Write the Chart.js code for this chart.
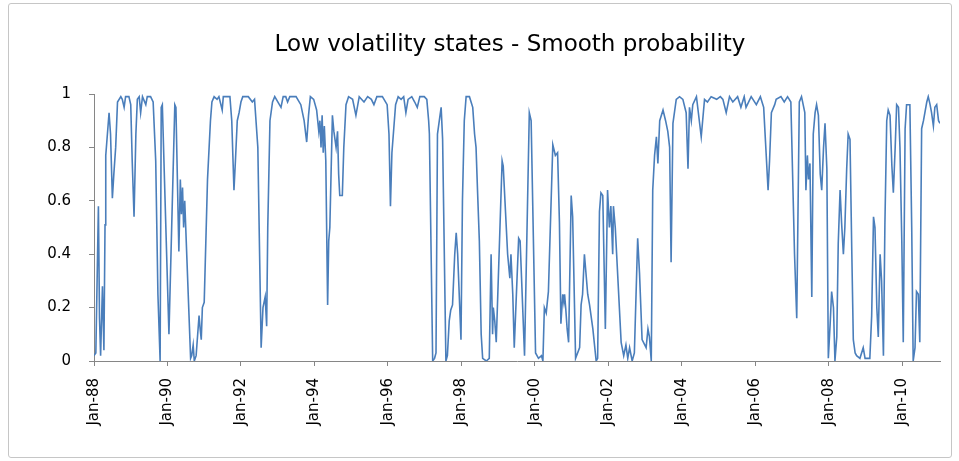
<!DOCTYPE html>
<html>
<head>
<meta charset="utf-8">
<script src="https://cdn.jsdelivr.net/npm/chart.js@4.4.1/dist/chart.umd.min.js"></script>
<style>
  html, body { margin: 0; padding: 0; background: #fff; }
  #wrap { position: relative; width: 959px; height: 461px; }
  #frame { position: absolute; left: 8px; top: 3px; width: 942px; height: 453px; border: 1px solid #c6c6c6; border-radius: 3px; pointer-events: none; }
</style>
</head>
<body>
<div id="wrap">
  <canvas id="chart" width="959" height="461"></canvas>
  <div id="frame"></div>
</div>
<script>
// Time of each traced vertex, in decimal years
const years = [
  1988.00, 1988.05, 1988.12, 1988.15, 1988.18, 1988.23, 1988.27, 1988.30, 1988.32, 1988.41, 1988.45, 1988.50, 1988.54, 1988.59, 1988.64, 1988.73, 1988.77, 1988.82, 1988.86, 1988.95,
  1989.00, 1989.04, 1989.09, 1989.14, 1989.18, 1989.23, 1989.27, 1989.32, 1989.41, 1989.45, 1989.54, 1989.61, 1989.68, 1989.74, 1989.80, 1989.83, 1989.86,
  1990.04, 1990.20, 1990.23, 1990.31, 1990.35, 1990.38, 1990.41, 1990.44, 1990.47, 1990.63, 1990.66, 1990.70, 1990.73, 1990.78, 1990.86, 1990.89, 1990.92, 1990.95,
  1991.00, 1991.09, 1991.17, 1991.21, 1991.27, 1991.35, 1991.40, 1991.49, 1991.52, 1991.70, 1991.75, 1991.81, 1991.85, 1991.90, 1991.95,
  1992.00, 1992.05, 1992.20, 1992.31, 1992.37, 1992.41, 1992.46, 1992.52, 1992.55, 1992.60, 1992.66, 1992.70, 1992.73, 1992.79, 1992.86, 1992.92,
  1993.09, 1993.15, 1993.22, 1993.27, 1993.33, 1993.50, 1993.63, 1993.72, 1993.79, 1993.84, 1993.89, 1993.98,
  1994.06, 1994.12, 1994.15, 1994.18, 1994.21, 1994.24, 1994.27, 1994.31, 1994.36, 1994.39, 1994.42, 1994.49, 1994.53, 1994.59, 1994.63, 1994.66, 1994.69, 1994.76, 1994.80, 1994.86, 1994.93,
  1995.04, 1995.13, 1995.22, 1995.35, 1995.45, 1995.55, 1995.62, 1995.70, 1995.85, 1995.98,
  1996.03, 1996.07, 1996.11, 1996.16, 1996.21, 1996.28, 1996.36, 1996.43, 1996.49, 1996.55, 1996.65, 1996.73, 1996.80, 1996.87, 1996.99,
  1997.06, 1997.11, 1997.13, 1997.22, 1997.27, 1997.31, 1997.35, 1997.40, 1997.45, 1997.49, 1997.58, 1997.62, 1997.67, 1997.71, 1997.76, 1997.82, 1997.86, 1997.90, 1997.99,
  1998.03, 1998.08, 1998.13, 1998.22, 1998.31, 1998.36, 1998.40, 1998.44, 1998.49, 1998.54, 1998.58, 1998.68, 1998.76, 1998.81, 1998.85, 1998.87, 1998.91, 1998.95,
  1999.11, 1999.14, 1999.26, 1999.32, 1999.35, 1999.40, 1999.44, 1999.56, 1999.60, 1999.72, 1999.85, 1999.90,
  2000.02, 2000.10, 2000.18, 2000.22, 2000.26, 2000.31, 2000.37, 2000.49, 2000.56, 2000.62, 2000.67, 2000.71, 2000.76, 2000.79, 2000.81, 2000.84, 2000.88, 2000.92, 2000.99,
  2001.03, 2001.11, 2001.22, 2001.26, 2001.30, 2001.35, 2001.44, 2001.49, 2001.58, 2001.67, 2001.71, 2001.76, 2001.80, 2001.85, 2001.92, 2001.98,
  2002.03, 2002.07, 2002.12, 2002.14, 2002.19, 2002.35, 2002.42, 2002.48, 2002.53, 2002.58, 2002.65, 2002.71, 2002.80, 2002.85, 2002.92,
  2003.03, 2003.08, 2003.12, 2003.17, 2003.21, 2003.26, 2003.31, 2003.35, 2003.40, 2003.49, 2003.56, 2003.62, 2003.67, 2003.71, 2003.76, 2003.85, 2003.94,
  2004.03, 2004.12, 2004.17, 2004.21, 2004.26, 2004.30, 2004.40, 2004.53, 2004.62, 2004.70, 2004.80, 2004.95,
  2005.05, 2005.12, 2005.21, 2005.30, 2005.39, 2005.52, 2005.61, 2005.70, 2005.75, 2005.89,
  2006.03, 2006.14, 2006.23, 2006.28, 2006.35, 2006.39, 2006.44, 2006.53, 2006.57, 2006.70, 2006.79, 2006.88, 2006.97,
  2007.07, 2007.13, 2007.20, 2007.26, 2007.35, 2007.38, 2007.42, 2007.45, 2007.49, 2007.54, 2007.58, 2007.63, 2007.67, 2007.72, 2007.77, 2007.81, 2007.86, 2007.90, 2007.95, 2007.99,
  2008.04, 2008.08, 2008.13, 2008.17, 2008.22, 2008.26, 2008.31, 2008.35, 2008.40, 2008.44, 2008.49, 2008.53, 2008.58, 2008.63, 2008.67, 2008.72, 2008.76, 2008.85, 2008.94, 2008.99,
  2009.12, 2009.17, 2009.22, 2009.26, 2009.31, 2009.35, 2009.40, 2009.44, 2009.49, 2009.53, 2009.58, 2009.62, 2009.67, 2009.72, 2009.76, 2009.81, 2009.85, 2009.90, 2009.94, 2009.99,
  2010.03, 2010.08, 2010.12, 2010.21, 2010.26, 2010.30, 2010.35, 2010.39, 2010.44, 2010.48, 2010.53, 2010.58, 2010.67, 2010.71, 2010.76, 2010.80, 2010.85, 2010.89, 2010.94, 2010.99,
  2011.03
];

// Smoothed probability of the low volatility state at each vertex
const smoothProb = [
  0.02, 0.03, 0.58, 0.16, 0.02, 0.28, 0.04, 0.51, 0.77, 0.93, 0.85, 0.61, 0.70, 0.80, 0.97, 0.99, 0.98, 0.95, 0.99, 0.99,
  0.96, 0.75, 0.54, 0.85, 0.98, 0.99, 0.93, 0.99, 0.96, 0.99, 0.99, 0.97, 0.75, 0.25, 0.00, 0.95, 0.96,
  0.10, 0.96, 0.95, 0.41, 0.68, 0.55, 0.65, 0.50, 0.60, 0.01, 0.02, 0.06, 0.00, 0.02, 0.17, 0.12, 0.08, 0.20,
  0.22, 0.68, 0.90, 0.97, 0.99, 0.98, 0.99, 0.94, 0.99, 0.99, 0.90, 0.64, 0.75, 0.90, 0.93,
  0.97, 0.99, 0.99, 0.97, 0.98, 0.90, 0.80, 0.30, 0.05, 0.20, 0.24, 0.13, 0.50, 0.90, 0.97, 0.99,
  0.95, 0.99, 0.99, 0.97, 0.99, 0.99, 0.96, 0.90, 0.82, 0.92, 0.99, 0.98,
  0.94, 0.86, 0.90, 0.80, 0.92, 0.78, 0.88, 0.75, 0.21, 0.45, 0.50, 0.92, 0.86, 0.80, 0.86, 0.70, 0.62, 0.62, 0.80, 0.96, 0.99,
  0.98, 0.92, 0.99, 0.97, 0.99, 0.98, 0.96, 0.99, 0.99, 0.96,
  0.85, 0.58, 0.78, 0.87, 0.96, 0.99, 0.98, 0.99, 0.93, 0.98, 0.99, 0.97, 0.95, 0.99, 0.99,
  0.98, 0.90, 0.85, 0.00, 0.01, 0.03, 0.85, 0.90, 0.95, 0.83, 0.00, 0.02, 0.15, 0.19, 0.21, 0.40, 0.48, 0.40, 0.08,
  0.60, 0.90, 0.99, 0.99, 0.95, 0.85, 0.80, 0.64, 0.45, 0.10, 0.01, 0.00, 0.01, 0.40, 0.10, 0.20, 0.15, 0.07,
  0.75, 0.73, 0.40, 0.31, 0.40, 0.25, 0.05, 0.46, 0.45, 0.02, 0.93, 0.90,
  0.03, 0.01, 0.02, 0.00, 0.20, 0.18, 0.26, 0.81, 0.77, 0.78, 0.52, 0.14, 0.25, 0.22, 0.25, 0.20, 0.12, 0.07, 0.62,
  0.54, 0.01, 0.05, 0.21, 0.25, 0.40, 0.25, 0.21, 0.12, 0.00, 0.01, 0.56, 0.63, 0.62, 0.12, 0.64,
  0.50, 0.58, 0.40, 0.58, 0.50, 0.07, 0.02, 0.06, 0.01, 0.05, 0.00, 0.03, 0.46, 0.33, 0.08,
  0.05, 0.12, 0.09, 0.00, 0.64, 0.77, 0.84, 0.74, 0.90, 0.94, 0.90, 0.86, 0.80, 0.37, 0.89, 0.98, 0.99,
  0.98, 0.93, 0.72, 0.95, 0.90, 0.96, 0.99, 0.84, 0.98, 0.97, 0.99, 0.98,
  0.99, 0.98, 0.93, 0.99, 0.97, 0.99, 0.95, 0.99, 0.95, 0.99,
  0.96, 0.99, 0.95, 0.82, 0.64, 0.75, 0.93, 0.96, 0.98, 0.99, 0.97, 0.99, 0.97,
  0.40, 0.16, 0.97, 0.99, 0.93, 0.64, 0.77, 0.68, 0.74, 0.24, 0.85, 0.93, 0.96, 0.92, 0.70, 0.64, 0.80, 0.89, 0.72, 0.01,
  0.14, 0.26, 0.20, 0.00, 0.09, 0.44, 0.64, 0.52, 0.40, 0.50, 0.72, 0.85, 0.83, 0.40, 0.08, 0.03, 0.02, 0.01, 0.05, 0.01,
  0.01, 0.17, 0.54, 0.50, 0.20, 0.09, 0.40, 0.30, 0.02, 0.51, 0.90, 0.94, 0.92, 0.73, 0.63, 0.80, 0.96, 0.95, 0.80, 0.45,
  0.07, 0.87, 0.96, 0.96, 0.50, 0.00, 0.05, 0.26, 0.25, 0.07, 0.87, 0.90, 0.97, 0.99, 0.96, 0.93, 0.88, 0.95, 0.96, 0.90,
  0.89
];

// X axis tick positions and their labels
const tickYears = [1988, 1990, 1992, 1994, 1996, 1998, 2000, 2002, 2004, 2006, 2008, 2010];
const tickLabels = ['Jan-88', 'Jan-90', 'Jan-92', 'Jan-94', 'Jan-96', 'Jan-98', 'Jan-00', 'Jan-02', 'Jan-04', 'Jan-06', 'Jan-08', 'Jan-10'];

const chartTitle = 'Low volatility states - Smooth probability';

const points = years.map((t, i) => ({ x: t, y: smoothProb[i] }));

const fontFamily = '"DejaVu Sans", Verdana, sans-serif';
const axisGray = '#868686';

// Title sits a little right of the canvas centre, as in the Excel chart
const titlePlugin = {
    id: 'excelTitle',
    afterDraw(chart) {
        const c = chart.ctx;
        c.save();
        c.font = '23px ' + fontFamily;
        c.fillStyle = '#000';
        c.textAlign = 'center';
        c.textBaseline = 'middle';
        c.fillText(chartTitle, 510, 45);
        c.restore();
    }
};

const ctx = document.getElementById('chart').getContext('2d');
new Chart(ctx, {
    type: 'line',
    data: {
        datasets: [{
            label: chartTitle,
            data: points,
            borderColor: '#4A7EBB',
            borderWidth: 1.6,
            pointRadius: 0,
            tension: 0,
            fill: false
        }]
    },
    options: {
        responsive: false,
        animation: false,
        layout: { padding: { left: 0, right: 19, top: 94, bottom: 0 } },
        scales: {
            x: {
                type: 'linear',
                min: 1988,
                max: 2011.03,
                afterBuildTicks: scale => {
                    scale.ticks = tickYears.map(v => ({ value: v }));
                },
                afterFit: scale => { scale.height = 100; },
                grid: { display: true, drawOnChartArea: false, drawTicks: true, tickLength: 5, color: axisGray },
                border: { display: true, color: axisGray, width: 1 },
                ticks: {
                    autoSkip: false,
                    minRotation: 90,
                    maxRotation: 90,
                    padding: 12,
                    color: '#000',
                    font: { family: fontFamily, size: 15 },
                    callback: (value, index) => tickLabels[index]
                }
            },
            y: {
                min: 0,
                max: 1,
                afterFit: scale => { scale.width = 94; },
                grid: { display: true, drawOnChartArea: false, drawTicks: true, tickLength: 5, color: axisGray },
                border: { display: true, color: axisGray, width: 1 },
                ticks: {
                    stepSize: 0.2,
                    padding: 18,
                    color: '#000',
                    font: { family: fontFamily, size: 15 },
                    callback: value => String(Number(value.toFixed(1)))
                }
            }
        },
        plugins: {
            legend: { display: false },
            tooltip: { enabled: false },
            title: { display: false }
        }
    },
    plugins: [titlePlugin]
});
</script>
</body>
</html>
